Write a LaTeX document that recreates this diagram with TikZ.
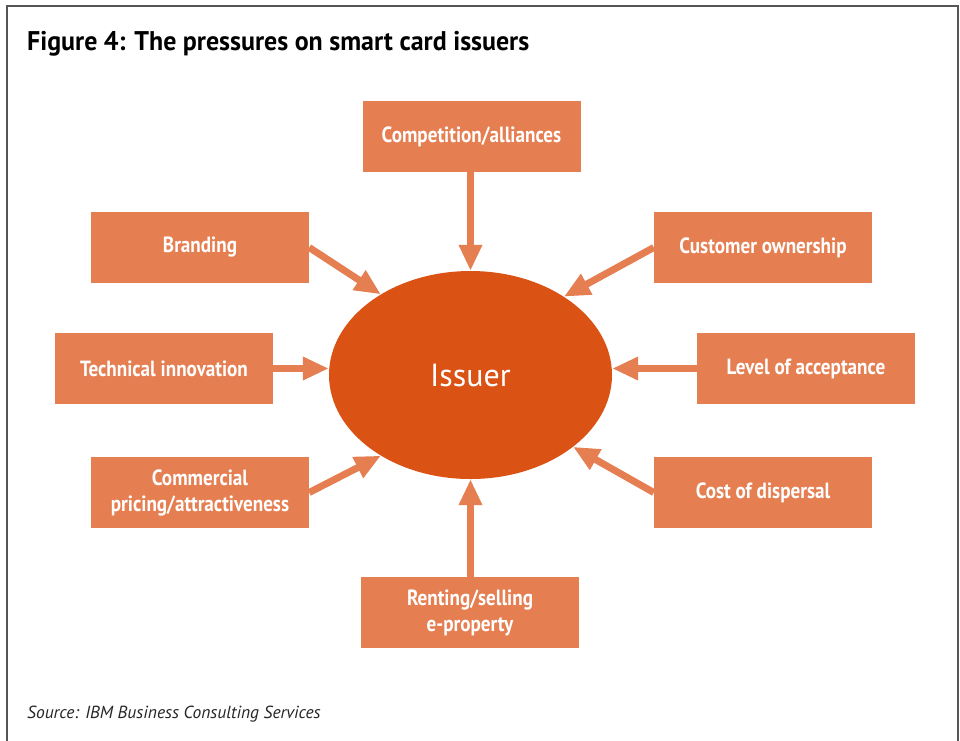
\documentclass[tikz,border=0pt]{standalone}
\usepackage{fontspec}
\setmainfont{PT Sans}
\newfontfamily\labelfont[FakeStretch=0.87]{PT Sans}
\newfontfamily\headfont[FakeStretch=0.96]{PT Sans}
\usetikzlibrary{arrows.meta,shapes.geometric}
\definecolor{boxorange}{RGB}{229,126,80}
\definecolor{coreorange}{RGB}{218,82,20}
\definecolor{framegray}{RGB}{85,85,85}

\begin{document}
\begin{tikzpicture}[x=1pt,y=-1pt,
  pressure/.style={fill=boxorange, draw=none, minimum width=218pt, minimum height=71pt,
    inner sep=0pt, text=white, align=center, font=\labelfont\bfseries\fontsize{22}{26}\selectfont},
  push/.style={draw=boxorange, line width=7pt, -{Triangle[length=26pt,width=22pt]}},
  core/.style={ellipse, fill=coreorange, draw=none, minimum width=283pt, minimum height=208pt,
    inner sep=0pt, text=white, font=\fontsize{32}{36}\selectfont}]

  % page area and outer frame
  \useasboundingbox (0,0) rectangle (960,740);
  \clip (0,0) rectangle (960,740);
  \fill[white] (0,0) rectangle (960,740);
  \draw[framegray, line width=2pt] (7,6) rectangle (958,780);

  % heading and source line
  \node[anchor=base west, inner sep=0pt, font=\headfont\bfseries\fontsize{27}{30}\selectfont]
    (title) at (27,50) {Figure 4: The pressures on smart card issuers};
  \node[anchor=base west, inner sep=0pt, font=\fontsize{17.5}{20}\selectfont\itshape, text=black!85]
    (source) at (27,718) {Source: IBM Business Consulting Services};

  % central issuer
  \node[core] (issuer) at (470.5,375) {Issuer};

  % surrounding pressures
  \node[pressure] (comp)   at (471.5,136.5) {Competition/alliances};
  \node[pressure] (brand)  at (200,247.5)   {Branding};
  \node[pressure] (cust)   at (763,247.5)   {Customer ownership};
  \node[pressure] (tech)   at (164,368.5)   {Technical innovation};
  \node[pressure] (accept) at (806,368.5)   {Level of acceptance};
  \node[pressure] (comm)   at (200,492.5)   {Commercial\\pricing/attractiveness};
  \node[pressure] (cost)   at (763,492.5)   {Cost of dispersal};
  \node[pressure] (rent)   at (470,612.5)   {Renting/selling\\e-property};

  % arrows pointing at the issuer
  \draw[push] (issuer.north |- comp.south) -- (issuer.north);
  \draw[push] (brand.east) -- (issuer.138.5);
  \draw[push] (cust.west) -- (issuer.40);
  \draw[push] (tech.east) -- (issuer.west |- tech.east);
  \draw[push] (accept.west) -- (issuer.east |- accept.west);
  \draw[push] (comm.east) -- (issuer.222);
  \draw[push] (cost.west) -- (issuer.325);
  \draw[push] (issuer.south |- rent.north) -- (issuer.south);
\end{tikzpicture}
\end{document}
